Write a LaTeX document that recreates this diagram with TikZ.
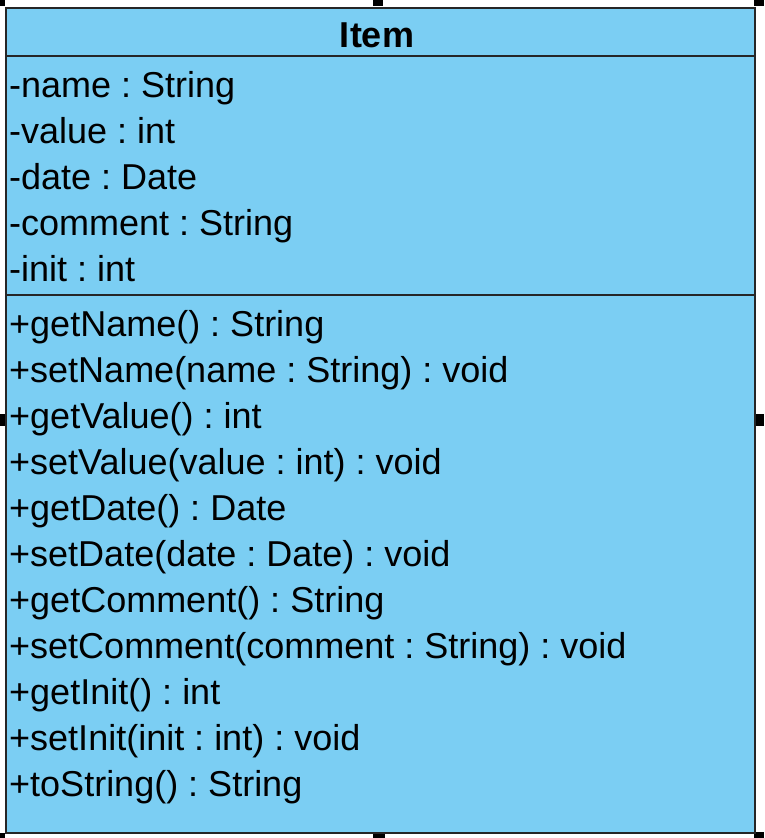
\documentclass[tikz,border=0pt]{standalone}
\usepackage{fontspec}
\setmainfont{Liberation Sans}
\usetikzlibrary{positioning}
\definecolor{itemblue}{HTML}{7BCEF3}
\frenchspacing

\begin{document}
\begin{tikzpicture}[x=1pt,y=-1pt,
   compart/.style={draw=black!85,line width=1.5pt,fill=itemblue,inner sep=0pt,
     minimum width=749pt,anchor=north west},
   member/.style={anchor=base west,inner sep=0pt,font=\fontsize{36}{46}\selectfont},
   handle/.style={fill=black}]
 \useasboundingbox (0,0) rectangle (764,838);

 %selection handles
 \fill[handle] (0,0) rectangle (5,6);
 \fill[handle] (373,0) rectangle (383,6);
 \fill[handle] (754,0) rectangle (764,6);
 \fill[handle] (0,414) rectangle (5,426);
 \fill[handle] (753,414) rectangle (764,426);
 \fill[handle] (0,833) rectangle (5,838);
 \fill[handle] (373,832) rectangle (385,838);
 \fill[handle] (754,832) rectangle (764,838);

 %class compartments
 \node[compart, minimum height=48pt]  (title)   at (5,7)   {};
 \node[compart, minimum height=239pt] (attribs) at (5,55)  {};
 \node[compart, minimum height=538pt] (methods) at (5,294) {};

 \node[member, anchor=base, font=\fontsize{36}{46}\selectfont\bfseries] (name) at (377,47) {Item};

 %attributes
 \node[member] (a1) at (9,97)  {-name : String};
 \node[member] (a2) at (9,143) {-value : int};
 \node[member] (a3) at (9,189) {-date : Date};
 \node[member] (a4) at (9,235) {-comment : String};
 \node[member] (a5) at (9,281) {-init : int};

 %operations
 \node[member] (m1)  at (9,336) {+getName() : String};
 \node[member] (m2)  at (9,382) {+setName(name : String) : void};
 \node[member] (m3)  at (9,428) {+getValue() : int};
 \node[member] (m4)  at (9,474) {+setValue(value : int) : void};
 \node[member] (m5)  at (9,520) {+getDate() : Date};
 \node[member] (m6)  at (9,566) {+setDate(date : Date) : void};
 \node[member] (m7)  at (9,612) {+getComment() : String};
 \node[member] (m8)  at (9,658) {+setComment(comment : String) : void};
 \node[member] (m9)  at (9,704) {+getInit() : int};
 \node[member] (m10) at (9,750) {+setInit(init : int) : void};
 \node[member] (m11) at (9,796) {+toString() : String};
\end{tikzpicture}
\end{document}
